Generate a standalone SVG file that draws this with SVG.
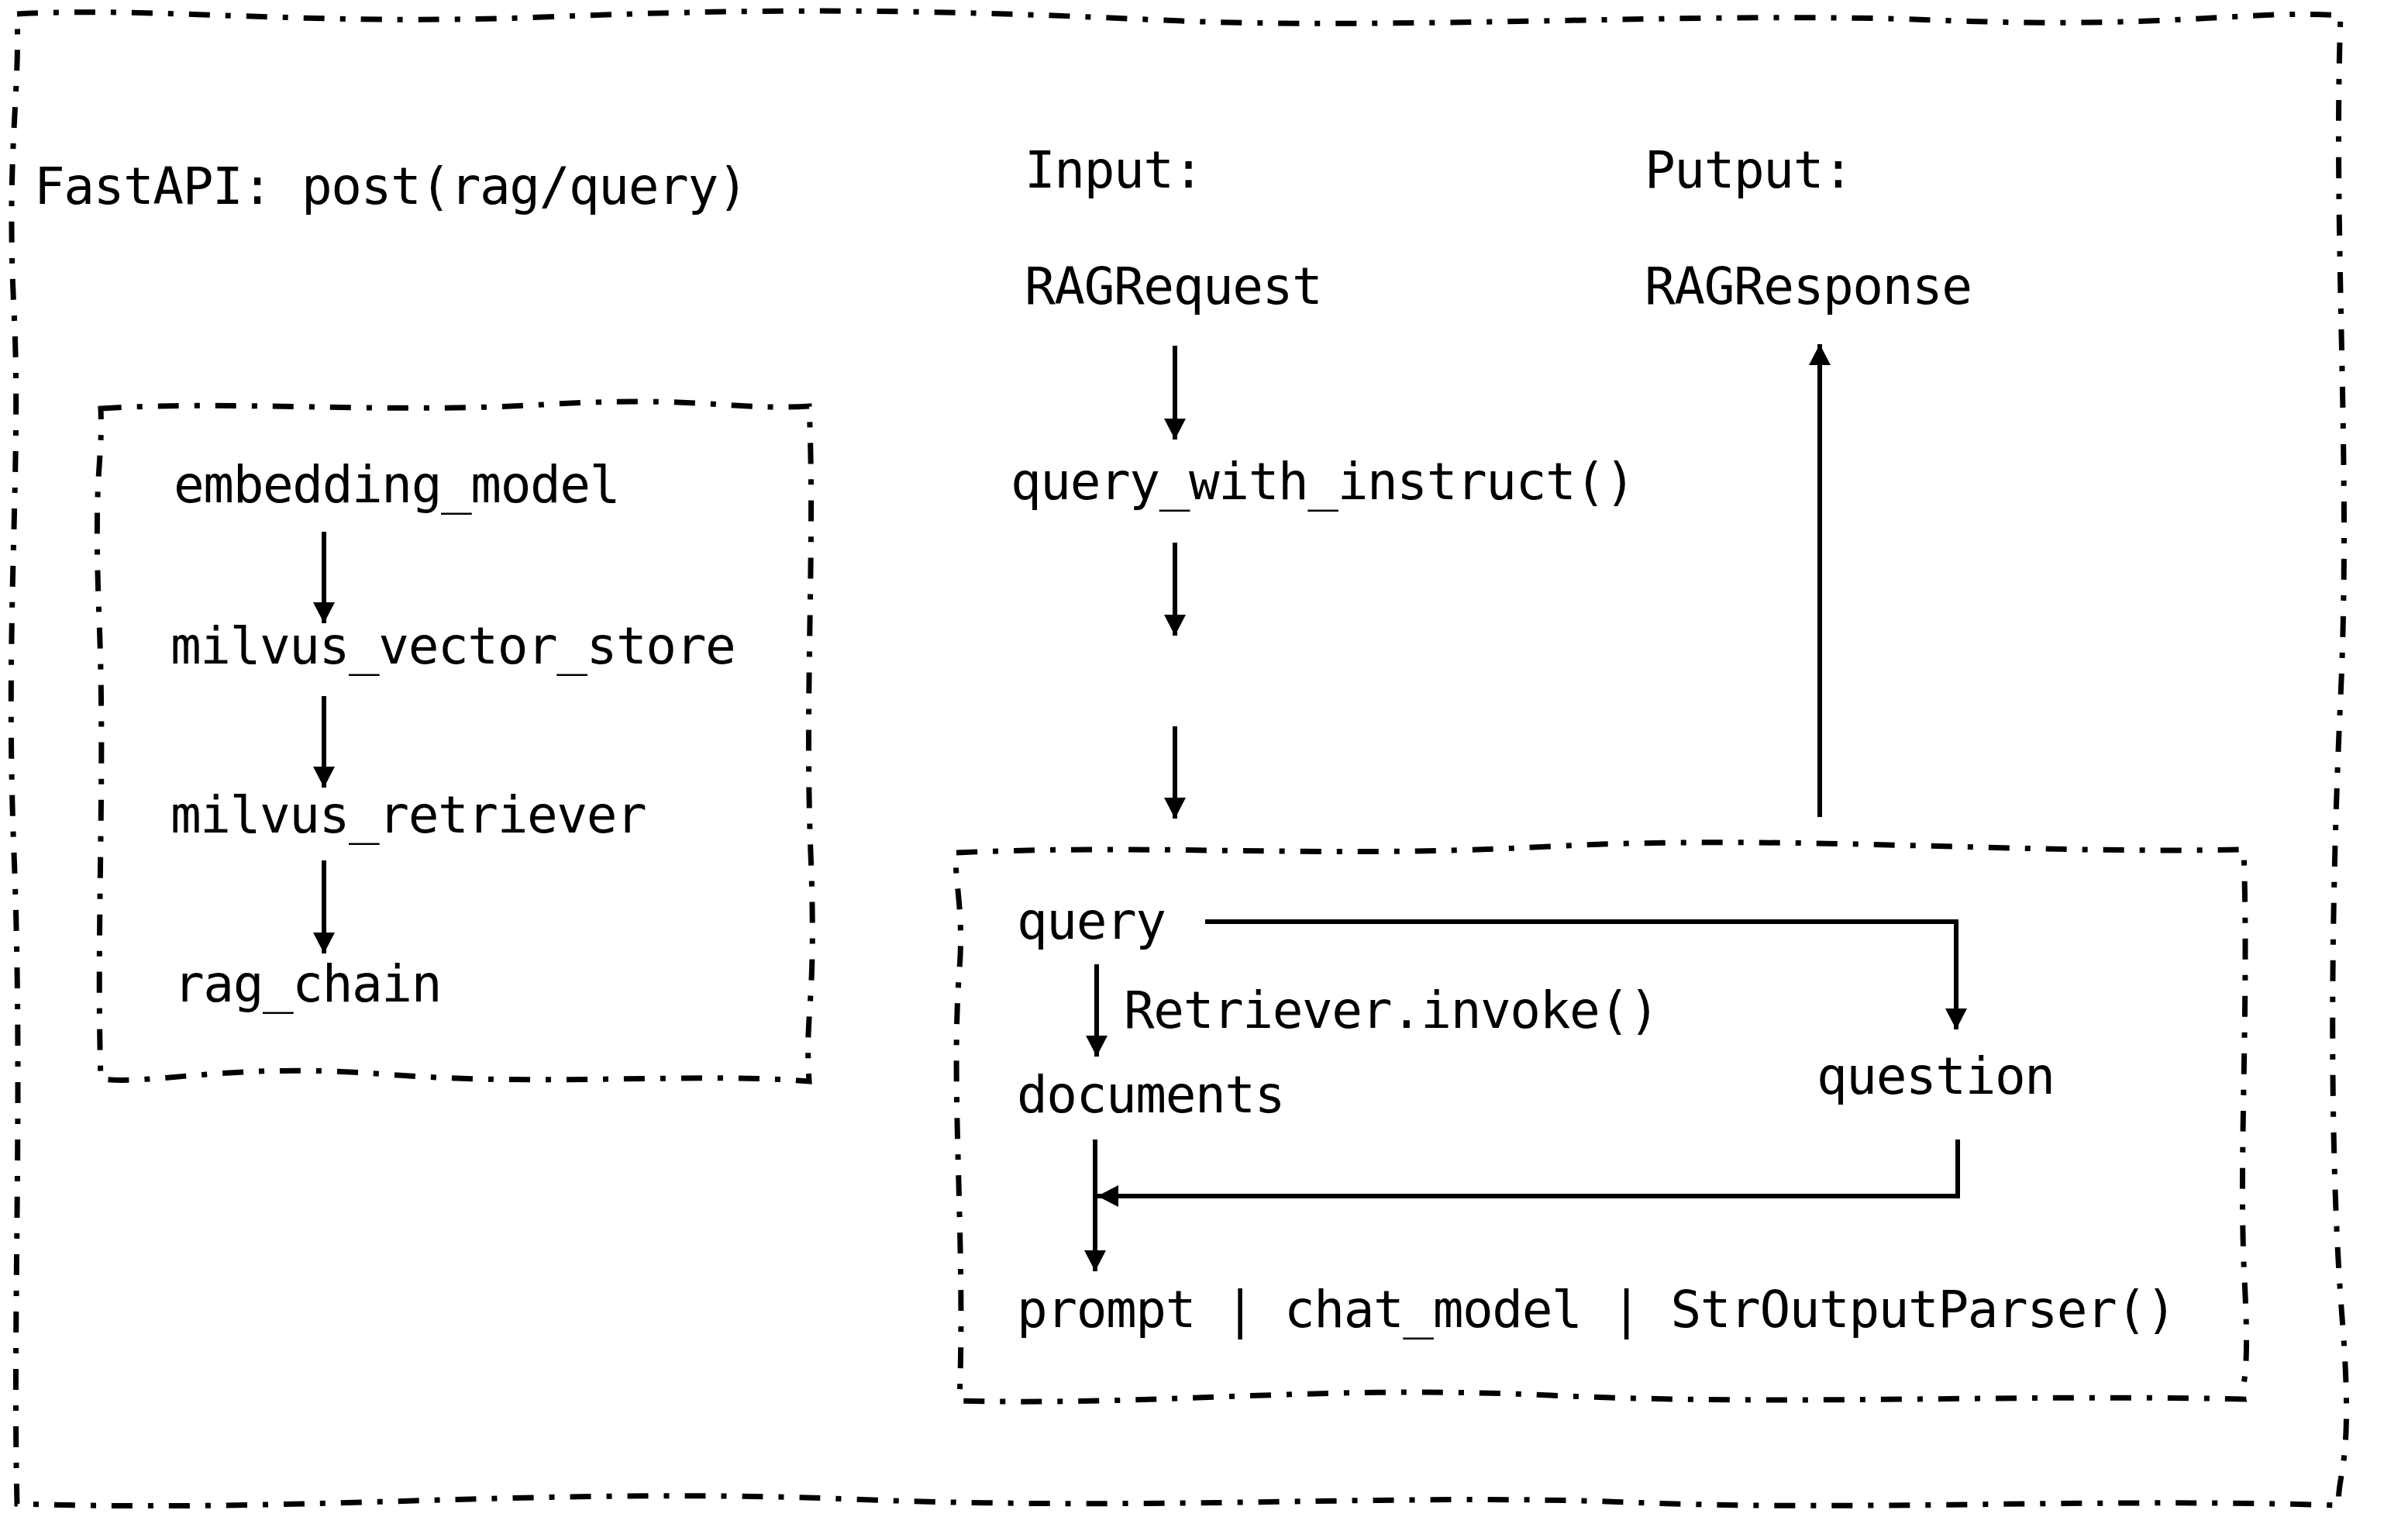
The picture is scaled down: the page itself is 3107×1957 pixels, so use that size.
<svg xmlns="http://www.w3.org/2000/svg" width="3107" height="1957" viewBox="0 0 3107 1957">
<defs>
<style>
.t{font-family:"DejaVu Sans Mono","Liberation Mono",monospace;font-size:66px;letter-spacing:-1.4px;fill:#000}
.b{fill:none;stroke:#000;stroke-width:7;stroke-dasharray:27 20 7 20}
.c{fill:none;stroke:#000;stroke-width:6}
</style>
<marker id="ah" markerUnits="userSpaceOnUse" markerWidth="30" markerHeight="30" refX="27" refY="14" orient="auto">
<path d="M0 0 L27 14 L0 28 Z" fill="#000"/>
</marker>
</defs>
<rect width="3107" height="1957" fill="#fff"/>
<g id="outer">
<path class="b" d="M22 18 C200 8,400 34,700 22 S1200 12,1500 26 S2200 14,2500 26 S2900 12,3020 20 C3010 300,3034 600,3020 900 S3006 1500,3022 1700 S3014 1900,3018 1942 C2700 1932,2400 1950,2100 1938 S1500 1950,1100 1934 S400 1952,22 1940 C16 1700,30 1400,18 1100 S28 600,18 400 S26 120,22 18 Z"/>
<text class="t" x="44" y="263">FastAPI: post(rag/query)</text>
</g>
<g id="input-label"><text class="t" x="1322" y="242">Input:</text></g>
<g id="output-label"><text class="t" x="2122" y="242">Putput:</text></g>
<g id="rag-request"><text class="t" x="1322" y="392">RAGRequest</text></g>
<g id="rag-response"><text class="t" x="2122" y="392">RAGResponse</text></g>
<g id="query-with-instruct"><text class="t" x="1304" y="644">query_with_instruct()</text></g>
<g id="left-box">
<path class="b" d="M130 527 C300 516,500 534,700 522 S950 530,1044 524 C1052 700,1038 900,1046 1100 S1038 1300,1044 1395 C900 1383,700 1402,500 1386 S200 1400,130 1392 C124 1200,136 1000,128 800 S133 600,130 527 Z"/>
</g>
<g id="embedding-model"><text class="t" x="224" y="648">embedding_model</text></g>
<g id="milvus-vector-store"><text class="t" x="220" y="856">milvus_vector_store</text></g>
<g id="milvus-retriever"><text class="t" x="220" y="1074">milvus_retriever</text></g>
<g id="rag-chain"><text class="t" x="224" y="1292">rag_chain</text></g>
<g id="right-box">
<path class="b" d="M1234 1100 C1500 1088,1700 1108,2000 1092 S2600 1102,2895 1096 C2902 1300,2888 1500,2896 1650 S2890 1780,2895 1805 C2600 1798,2300 1814,2000 1800 S1500 1814,1238 1807 C1246 1600,1226 1400,1238 1250 C1244 1170,1230 1130,1234 1100 Z"/>
</g>
<g id="query"><text class="t" x="1312" y="1211">query</text></g>
<g id="documents"><text class="t" x="1312" y="1435">documents</text></g>
<g id="question"><text class="t" x="2344" y="1411">question</text></g>
<g id="chain"><text class="t" x="1312" y="1712">prompt | chat_model | StrOutputParser()</text></g>
<g id="connectors">
<path class="c" marker-end="url(#ah)" d="M1516 446 V567"/>
<path class="c" marker-end="url(#ah)" d="M1516 700 V820"/>
<path class="c" marker-end="url(#ah)" d="M1516 937 V1056"/>
<path class="c" marker-end="url(#ah)" d="M2348 1054 V444"/>
<path class="c" marker-end="url(#ah)" d="M418 686 V804"/>
<path class="c" marker-end="url(#ah)" d="M418 898 V1016"/>
<path class="c" marker-end="url(#ah)" d="M418 1110 V1230"/>
<path class="c" marker-end="url(#ah)" d="M1415 1244 V1363"/>
<text class="t" x="1450" y="1326">Retriever.invoke()</text>
<path class="c" marker-end="url(#ah)" d="M1555 1189 H2524 V1328"/>
<path class="c" marker-end="url(#ah)" d="M1413 1470 V1640"/>
<path class="c" marker-end="url(#ah)" d="M2526 1470 V1543 H1416"/>
</g>
</svg>
